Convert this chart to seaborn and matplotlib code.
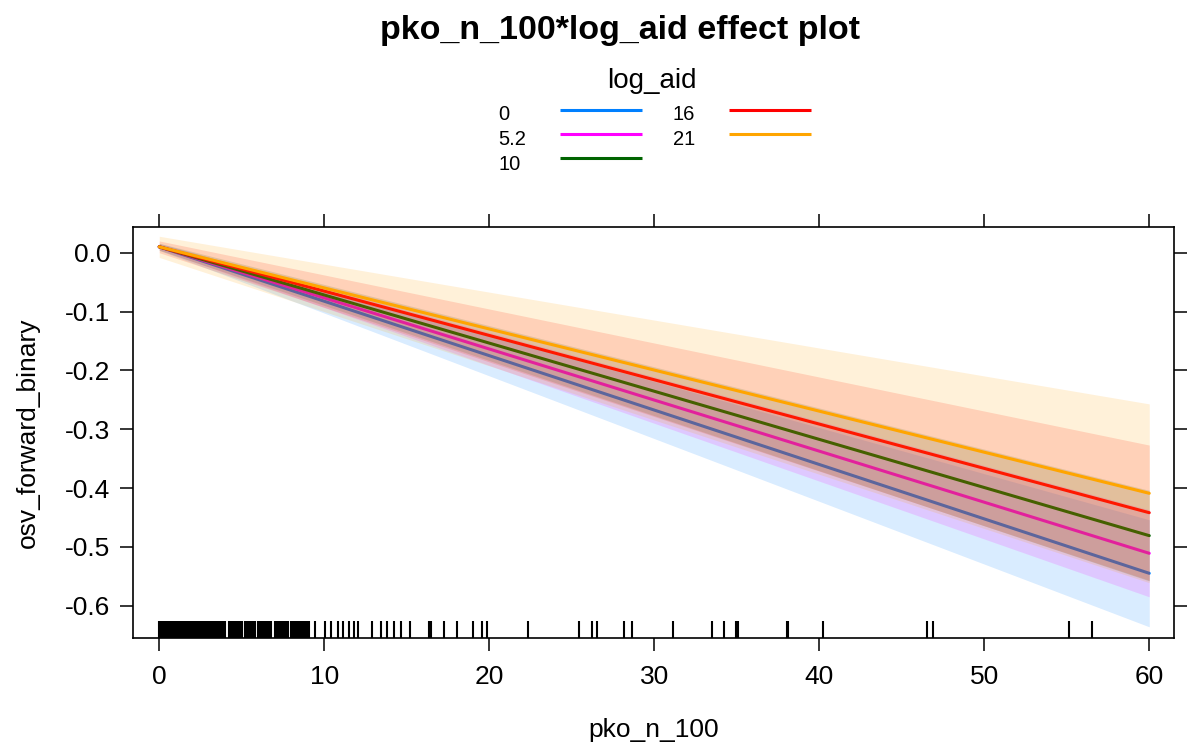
import matplotlib
matplotlib.use("Agg")
import matplotlib.pyplot as plt
from matplotlib.lines import Line2D
import seaborn as sns
import pandas as pd

# ---------------- data ----------------
log_aid_levels = ["0", "5.2", "10", "16", "21"]
line_colors = ["#0080FF", "#FF00FF", "#006400", "#FF0000", "#FFA500"]

pko_x = [0, 60]
fit_0 = [0.010, -0.545]
fit_5_2 = [0.010, -0.511]
fit_10 = [0.010, -0.481]
fit_16 = [0.010, -0.442]
fit_21 = [0.010, -0.409]

lower_0 = [0.004, -0.636]
upper_0 = [0.016, -0.454]
lower_5_2 = [0.005, -0.585]
upper_5_2 = [0.015, -0.437]
lower_10 = [0.004, -0.558]
upper_10 = [0.016, -0.404]
lower_16 = [0.000, -0.557]
upper_16 = [0.020, -0.327]
lower_21 = [-0.008, -0.561]
upper_21 = [0.028, -0.257]

fits = [fit_0, fit_5_2, fit_10, fit_16, fit_21]
lowers = [lower_0, lower_5_2, lower_10, lower_16, lower_21]
uppers = [upper_0, upper_5_2, upper_10, upper_16, upper_21]

# observed pko_n_100 values (rug)
rug_dense = [
    0.0, 0.1, 0.2, 0.3, 0.4, 0.5, 0.6, 0.7, 0.8, 0.9,
    1.0, 1.1, 1.2, 1.3, 1.4, 1.5, 1.6, 1.7, 1.8, 1.9,
    2.0, 2.1, 2.2, 2.3, 2.4, 2.5, 2.6, 2.7, 2.8, 2.9,
    3.0, 3.1, 3.2, 3.3, 3.4, 3.5, 3.6, 3.7, 3.8, 3.9,
    4.0, 4.2, 4.3, 4.4, 4.5, 4.6, 4.7, 4.8, 4.9,
    5.0, 5.2, 5.3, 5.4, 5.5, 5.6, 5.7, 5.8,
    6.0, 6.1, 6.2, 6.3, 6.4, 6.5, 6.6, 6.7, 6.8,
    7.0, 7.1, 7.2, 7.3, 7.4, 7.5, 7.6, 7.7, 7.8,
    8.0, 8.1, 8.2, 8.3, 8.4, 8.5, 8.6, 8.7, 8.8, 8.9, 9.0, 9.1,
]
rug_sparse = [
    9.47, 10.07, 10.44, 10.83, 11.16, 11.48, 11.81, 12.07, 12.87, 13.47,
    13.80, 14.23, 14.66, 15.21, 16.35, 16.50, 17.26, 18.02, 19.00, 19.54,
    19.86, 22.35, 25.45, 26.25, 26.51, 28.19, 28.63, 31.16, 33.51, 34.24,
    34.93, 35.09, 38.06, 38.12, 40.20, 46.51, 46.91, 55.13, 56.54,
]
rug_values = rug_dense + rug_sparse

x_ticks = [0, 10, 20, 30, 40, 50, 60]
y_ticks = [0.0, -0.1, -0.2, -0.3, -0.4, -0.5, -0.6]
y_tick_labels = ["0.0", "-0.1", "-0.2", "-0.3", "-0.4", "-0.5", "-0.6"]

# ---------------- style ----------------
sns.set_theme(style="white")
plt.rcParams["font.family"] = ["Liberation Sans", "DejaVu Sans"]
plt.rcParams["axes.linewidth"] = 1.2

W, H = 1192, 754
fig = plt.figure(figsize=(W / 100, H / 100), dpi=100)
ax = fig.add_axes([133 / W, 1 - 638 / H, (1174 - 133) / W, (638 - 227) / H])

for i, (lvl, col, f, lo, up) in enumerate(zip(log_aid_levels, line_colors, fits, lowers, uppers)):
    ax.fill_between(pko_x, lo, up, color=col, alpha=0.15, linewidth=0, zorder=1 + 2 * i)
    df = pd.DataFrame({"pko_n_100": pko_x, "osv_forward_binary": f})
    sns.lineplot(data=df, x="pko_n_100", y="osv_forward_binary", color=col,
                 linewidth=2.2, ax=ax, legend=False, zorder=2 + 2 * i)

sns.rugplot(x=rug_values, ax=ax, height=0.041, color="black", linewidth=1.5,
            expand_margins=False, zorder=20)

ax.set_xlim(-1.59, 61.5)
ax.set_ylim(-0.655, 0.0437)
ax.set_xticks(x_ticks)
ax.set_xticklabels([str(v) for v in x_ticks])
ax.set_yticks(y_ticks)
ax.set_yticklabels(y_tick_labels)
for s in ax.spines.values():
    s.set_color("black")
    s.set_linewidth(1.2)
    s.set_zorder(30)
ax.tick_params(axis="both", which="both", direction="out", length=9.5, width=1.1,
               color="black", labelsize=19, labelcolor="black",
               top=True, right=True, bottom=True, left=True,
               labeltop=False, labelright=False)
ax.tick_params(axis="x", pad=10)
ax.tick_params(axis="y", pad=7)

ax.set_xlabel("pko_n_100", fontsize=19, color="black")
ax.set_ylabel("osv_forward_binary", fontsize=19, color="black")
ax.xaxis.set_label_coords(0.5, -0.195)
ax.yaxis.set_label_coords(-0.089, 0.5)

# title
fig.text(620 / W, 1 - 30 / H, "pko_n_100*log_aid effect plot", ha="center",
         va="center", fontsize=24.5, fontweight="bold", color="black")

# legend (lattice-style key)
fig.text(652 / W, 1 - 88 / H, "log_aid", ha="center", va="baseline",
         fontsize=20, color="black")
key_cols = [(498, 560, 642), (673, 729, 811)]
key_rows = [(120, 109.5), (145, 134), (169.5, 158)]
for i, (lvl, col) in enumerate(zip(log_aid_levels, line_colors)):
    c = i // 3
    r = i % 3
    tx, lx0, lx1 = key_cols[c]
    ty, ly = key_rows[r]
    fig.text(tx / W, 1 - ty / H, lvl, ha="left", va="baseline",
             fontsize=14.5, color="black")
    fig.add_artist(Line2D([lx0 / W, lx1 / W], [1 - ly / H, 1 - ly / H],
                          transform=fig.transFigure, color=col, linewidth=2.2,
                          solid_capstyle="butt"))

fig.savefig("out.png", dpi=100)
